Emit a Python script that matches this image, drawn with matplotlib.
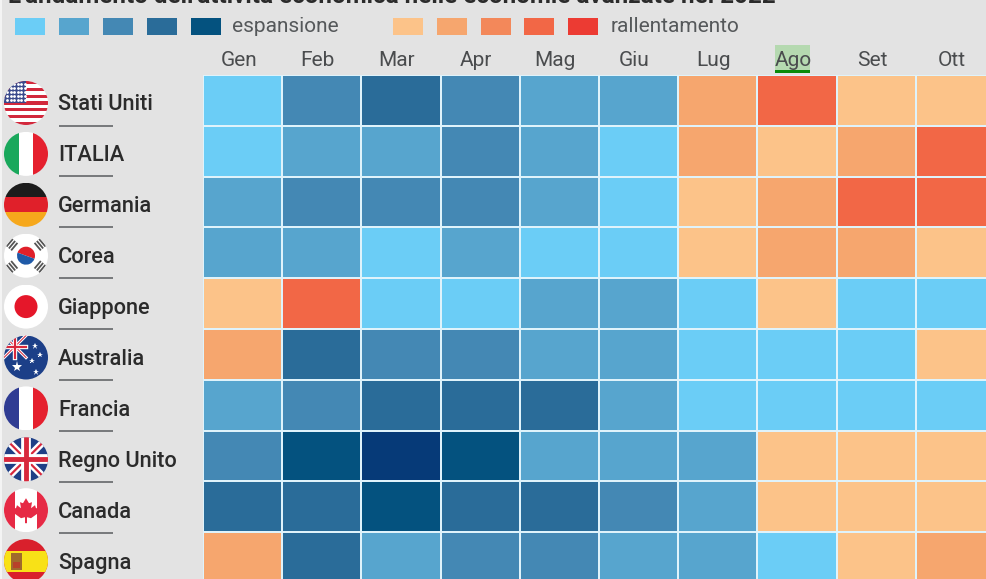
import numpy as np
import matplotlib
matplotlib.use('Agg')
import matplotlib.pyplot as plt
from matplotlib.colors import ListedColormap, BoundaryNorm
from matplotlib.patches import Circle, Rectangle, Polygon, Wedge
from matplotlib.transforms import ScaledTranslation

months = ['Gen', 'Feb', 'Mar', 'Apr', 'Mag', 'Giu', 'Lug', 'Ago', 'Set', 'Ott']
countries = ['Stati Uniti', 'ITALIA', 'Germania', 'Corea', 'Giappone',
             'Australia', 'Francia', 'Regno Unito', 'Canada', 'Spagna']

# livello: positivo = espansione, negativo = rallentamento
stati_uniti = [1, 3, 4, 3, 2, 2, -2, -4, -1, -1]
italia = [1, 2, 2, 3, 2, 1, -2, -1, -2, -4]
germania = [2, 3, 3, 3, 2, 1, -1, -2, -4, -4]
corea = [2, 2, 1, 2, 1, 1, -1, -2, -2, -1]
giappone = [-1, -4, 1, 1, 2, 2, 1, -1, 1, 1]
australia = [-2, 4, 3, 3, 2, 2, 1, 1, 1, -1]
francia = [2, 3, 4, 4, 4, 2, 1, 1, 1, 1]
regno_unito = [3, 5, 6, 5, 2, 2, 2, -1, -1, -1]
canada = [4, 4, 5, 4, 4, 3, 2, -1, -1, -1]
spagna = [-2, 4, 2, 3, 3, 2, 2, 1, -1, -2]

blues = ['#6bcdf6', '#57a5ce', '#4488b4', '#2a6c99', '#04527f']
darkest = '#063a78'
oranges = ['#fcc389', '#f6a66e', '#f3885a', '#f26746', '#ec3b33']

BG = '#e3e3e3'
FONT = 'Roboto'

levels = np.array([stati_uniti, italia, germania, corea, giappone,
                   australia, francia, regno_unito, canada, spagna])
cmap = ListedColormap(oranges[::-1] + [BG] + blues + [darkest])
norm = BoundaryNorm(np.arange(-5.5, 7.5), cmap.N)

W, H = 986, 579
fig = plt.figure(figsize=(W / 100, H / 100), dpi=100, facecolor=BG)

# asse in pixel per titolo, legenda e bandiere
deco = fig.add_axes([0, 0, 1, 1], zorder=1)
deco.set_xlim(0, W)
deco.set_ylim(H, 0)
deco.axis('off')


def flag(cy, draw):
    clip = Circle((26, cy), 22, transform=deco.transData)
    n0 = len(deco.patches)
    n1 = len(deco.lines)
    draw(26, cy, 22)
    for a in list(deco.patches[n0:]) + list(deco.lines[n1:]):
        a.set_clip_path(clip)


def box(x0, y0, x1, y1, c):
    deco.add_patch(Rectangle((x0, y0), x1 - x0, y1 - y0, fc=c, ec='none'))


def usa(x, y, r):
    box(x - r, y - r, x + r, y + r, 'white')
    for k in range(0, 13, 2):
        box(x - r, y - r + k * 2 * r / 13, x + r, y - r + (k + 1) * 2 * r / 13, '#d2283c')
    box(x - r, y - r, x, y, '#3a4a8c')
    for i in range(6):
        for j in range(5):
            deco.plot(x - r + 3 + i * 3.6, y - r + 3 + j * 4, '.', color='white', ms=2)


def tricolor(c1, c2, c3):
    def draw(x, y, r):
        box(x - r, y - r, x - r / 3, y + r, c1)
        box(x - r / 3, y - r, x + r / 3, y + r, c2)
        box(x + r / 3, y - r, x + r, y + r, c3)
    return draw


def germany(x, y, r):
    box(x - r, y - r, x + r, y - r / 3, '#1c1c1c')
    box(x - r, y - r / 3, x + r, y + r / 3, '#e0202a')
    box(x - r, y + r / 3, x + r, y + r, '#f6a81c')


def korea(x, y, r):
    box(x - r, y - r, x + r, y + r, 'white')
    deco.add_patch(Wedge((x, y), 9, 200, 20, fc='#e0202a', ec='none'))
    deco.add_patch(Wedge((x, y), 9, 20, 200, fc='#1f5aa8', ec='none'))
    for sx, sy in [(-14, -11), (14, -11), (-14, 11), (14, 11)]:
        a = np.sign(sx * sy) * 40
        for d in (-3, 0, 3):
            dx, dy = d * np.cos(np.radians(a)), d * np.sin(np.radians(a))
            lx, ly = 4 * np.sin(np.radians(a)), -4 * np.cos(np.radians(a))
            deco.plot([x + sx + dx - lx, x + sx + dx + lx], [y + sy + dy - ly, y + sy + dy + ly],
                      color='#555555', lw=1.3)


def japan(x, y, r):
    box(x - r, y - r, x + r, y + r, 'white')
    deco.add_patch(Circle((x, y), 11.5, fc='#e5172a', ec='none'))


def union(x, y, r, s=1.0):
    deco.plot([x - r, x + r], [y - r, y + r], color='white', lw=5 * s)
    deco.plot([x - r, x + r], [y + r, y - r], color='white', lw=5 * s)
    deco.plot([x - r, x + r], [y - r, y + r], color='#d8283c', lw=1.6 * s)
    deco.plot([x - r, x + r], [y + r, y - r], color='#d8283c', lw=1.6 * s)
    deco.plot([x - r, x + r], [y, y], color='white', lw=7 * s)
    deco.plot([x, x], [y - r, y + r], color='white', lw=7 * s)
    deco.plot([x - r, x + r], [y, y], color='#d8283c', lw=3.5 * s)
    deco.plot([x, x], [y - r, y + r], color='#d8283c', lw=3.5 * s)


def uk(x, y, r):
    box(x - r, y - r, x + r, y + r, '#1f3f86')
    union(x, y, r)


def aus(x, y, r):
    box(x - r, y - r, x + r, y + r, '#1c3f88')
    union(x - 11, y - 11, 11, 0.45)
    for sx, sy, ms in [(-9, 9, 8), (9, -12, 5), (14, -3, 4), (6, 3, 4), (10, 14, 5)]:
        deco.plot(x + sx, y + sy, '*', color='white', ms=ms, mew=0)


def canada_flag(x, y, r):
    box(x - r, y - r, x + r, y + r, 'white')
    box(x - r, y - r, x - r * 0.5, y + r, '#e62a45')
    box(x + r * 0.5, y - r, x + r, y + r, '#e62a45')
    leaf = [(0, -12), (3, -7), (6, -8), (5, -2), (9, -5), (10, -2), (13, -2), (11, 2), (12, 3),
            (5, 8), (1, 7), (1, 13), (-1, 13), (-1, 7), (-5, 8), (-12, 3), (-11, 2), (-13, -2),
            (-10, -2), (-9, -5), (-5, -2), (-6, -8), (-3, -7)]
    deco.add_patch(Polygon([(x + a, y + b) for a, b in leaf], fc='#e62a45', ec='none'))


def spain(x, y, r):
    box(x - r, y - r, x + r, y + r, '#d9202c')
    box(x - r, y - r * 0.45, x + r, y + r * 0.5, '#f8e117')
    box(x - 15, y - 8, x - 4, y + 9, '#a06a2c')
    box(x - 13, y + 1, x - 6, y + 7, '#b8402a')


flags = [usa, tricolor('#1aa85c', 'white', '#e5202e'), germany, korea, japan, aus,
         tricolor('#2f3c93', 'white', '#e5202e'), uk, canada_flag, spain]
for i, draw in enumerate(flags):
    cy = 103 + i * 50.9
    flag(cy, draw)
    deco.text(58, cy + 2, countries[i], family=FONT, fontweight='medium', fontsize=15.7,
              color='#2b2b2b', va='center', ha='left')
    if i < len(flags) - 1:
        deco.plot([59, 113], [cy + 22.5, cy + 22.5], color='#77797b', lw=1.4, solid_capstyle='butt')

# striscia chiara a sinistra
box(0, 0, 2, H, '#f4f4f4')

deco.text(8, -3.5, "L'andamento dell'attività economica nelle economie avanzate nel 2022",
          fontsize=17.5, fontweight='bold', family=FONT, color='#2b2b2b', va='center', ha='left')

for k, c in enumerate(blues):
    box(15 + k * 44, 18, 45 + k * 44, 35, c)
deco.text(232, 26, 'espansione', fontsize=15, family=FONT, color='#55585a', va='center')
for k, c in enumerate(oranges):
    box(393 + k * 43.8, 18, 423 + k * 43.8, 35, c)
deco.text(611, 26, 'rallentamento', fontsize=15, family=FONT, color='#55585a', va='center')

# evidenziazione di "Ago"
box(775, 45, 810, 70, '#b5d9b0')
box(775, 70, 810, 73, '#0a8a0a')

# heatmap
ax = fig.add_axes([203 / W, 1 - 583 / H, 792 / W, 508 / H], zorder=2)
ax.patch.set_alpha(0)
ax.pcolormesh(levels, cmap=cmap, norm=norm, edgecolors='#dff3fb', linewidth=1.1)
ax.set_ylim(len(countries), 0)
ax.set_xlim(0, len(months))
ax.xaxis.tick_top()
ax.set_xticks(np.arange(len(months)) + 0.5, months, family=FONT,
              fontsize=15, color='#4a4c4e')
ax.set_yticks([])
ax.tick_params(axis='x', length=0, pad=3.5)
for lab in ax.get_xticklabels():
    lab.set_transform(lab.get_transform() + ScaledTranslation(-4 / 100, 0, fig.dpi_scale_trans))
for s in ax.spines.values():
    s.set_visible(False)

fig.savefig('out.png', dpi=100, facecolor=BG)
